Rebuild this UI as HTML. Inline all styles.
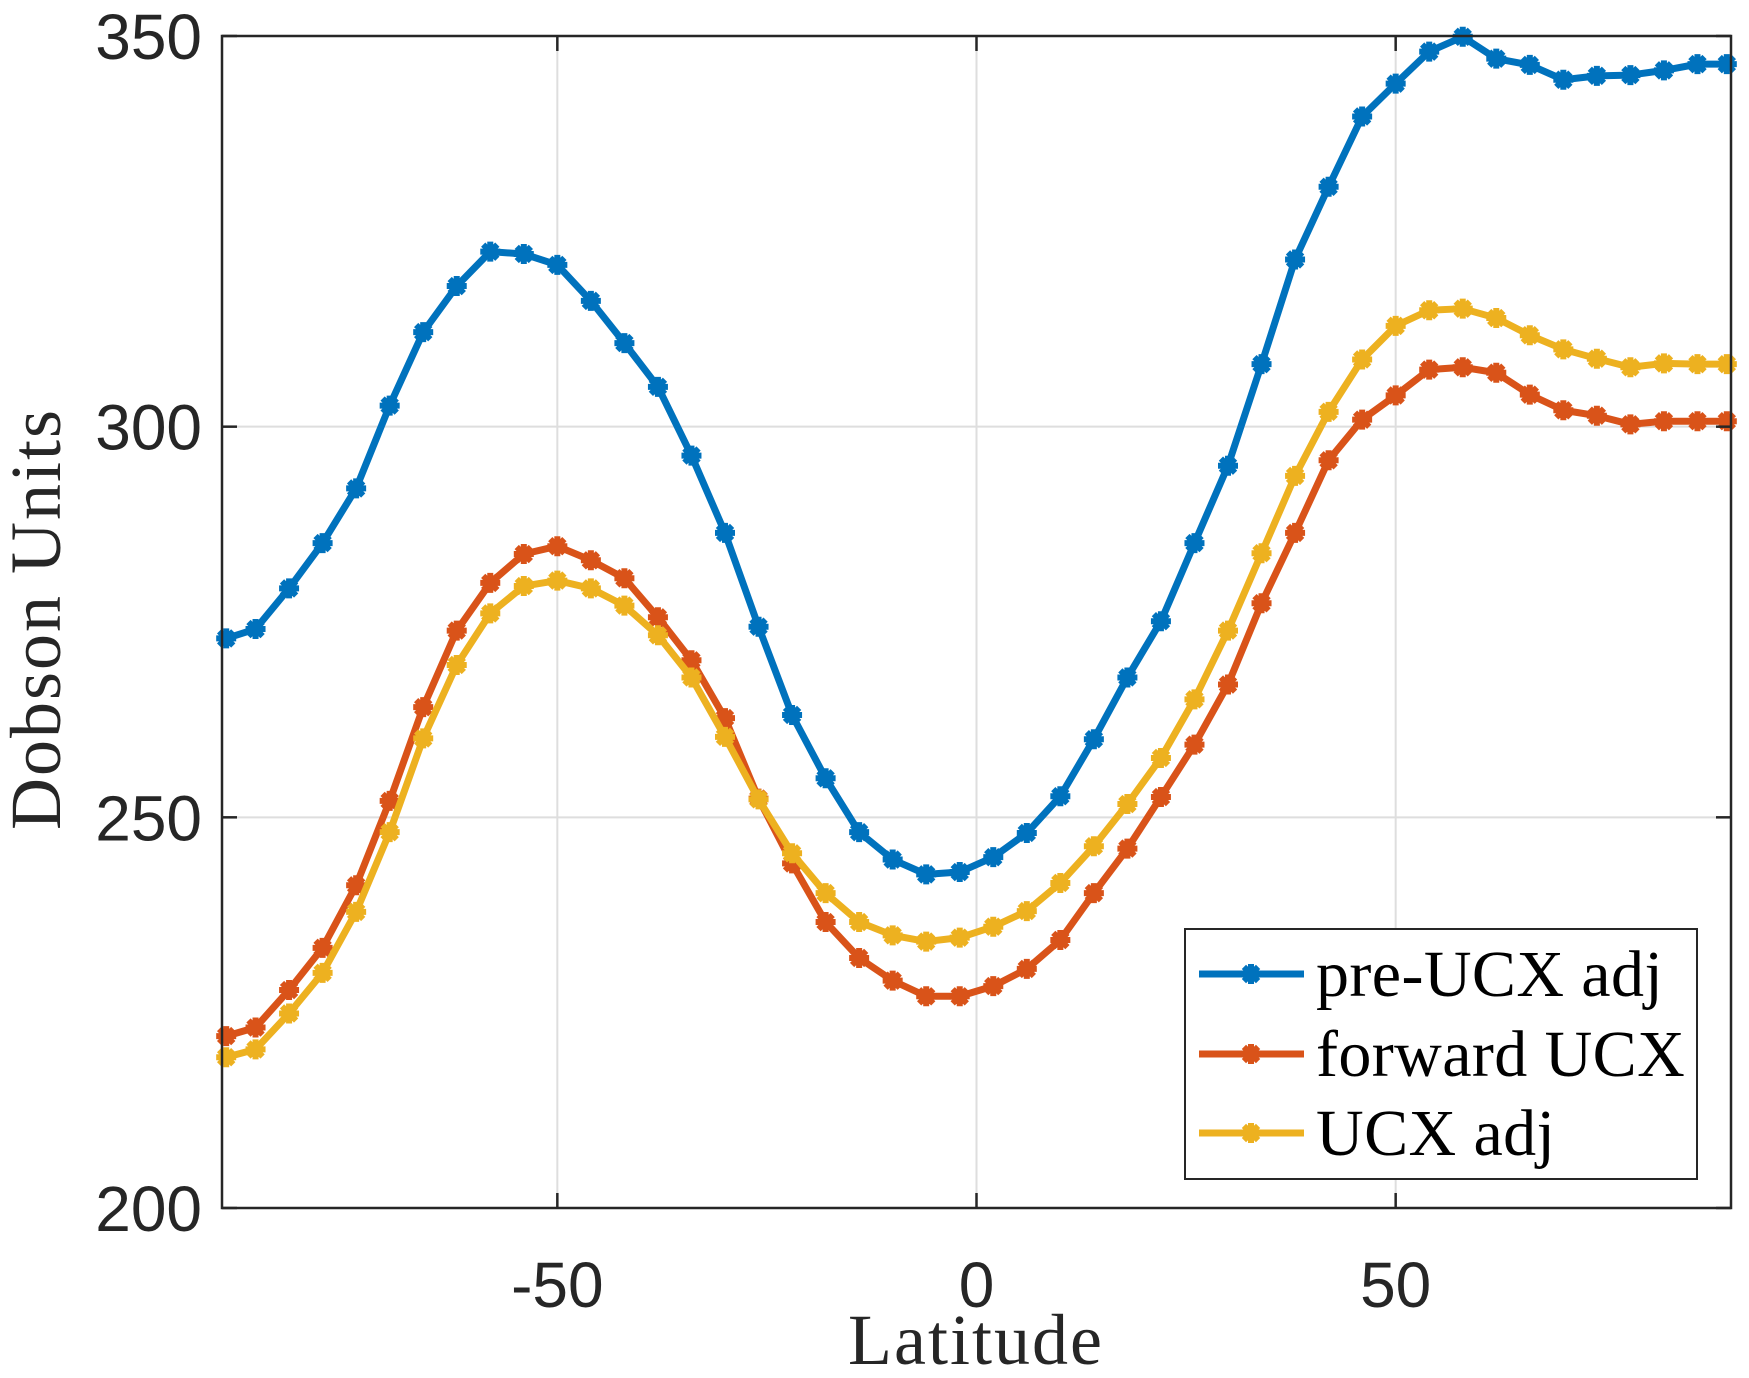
<!DOCTYPE html>
<html><head><meta charset="utf-8"><style>
html,body{margin:0;padding:0;background:#fff;}
svg{display:block;}
</style></head><body>
<svg id="chart" width="1749" height="1378" viewBox="0 0 1749 1378" xmlns="http://www.w3.org/2000/svg">
<rect width="1749" height="1378" fill="#fff"/>
<g id="grid"></g>
<g id="series"></g>
<g id="axes"></g>
<text x="976" y="1364" text-anchor="middle" font-family="Liberation Serif, serif" font-size="72" letter-spacing="2" fill="#262626">Latitude</text>
<text transform="translate(60,619) rotate(-90)" text-anchor="middle" font-family="Liberation Serif, serif" font-size="72" letter-spacing="2" fill="#262626">Dobson Units</text>
<g id="legend">
<rect x="1185" y="929" width="512" height="250" fill="#fff" stroke="#262626" stroke-width="2"/>
</g>
</svg>
<script>
const lats = [-89.5,-86,-82,-78,-74,-70,-66,-62,-58,-54,-50,-46,-42,-38,-34,-30,-26,-22,-18,-14,-10,-6,-2,2,6,10,14,18,22,26,30,34,38,42,46,50,54,58,62,66,70,74,78,82,86,89.5];
const preUcx = [272.9,274.1,279.3,285.1,292.1,302.7,312.1,318,322.4,322.1,320.7,316.1,310.7,305.1,296.3,286.4,274.4,263.1,255,248.1,244.6,242.7,243,244.9,248,252.7,260,267.9,275.1,285.1,295,308,321.4,330.7,339.7,343.9,348,349.9,347.1,346.3,344.4,344.9,345,345.6,346.4,346.4];
const forwardUcx = [222,223.1,227.9,233.3,241.3,252.1,264.1,273.9,280,283.7,284.7,282.9,280.6,275.6,270.1,262.7,252.4,244.1,236.6,232,229.1,227.1,227.1,228.4,230.6,234.3,240.3,246,252.6,259.3,267,277.4,286.4,295.7,300.9,304,307.3,307.6,306.9,304.1,302.1,301.4,300.3,300.7,300.7,300.7];
const ucxAdj = [219.3,220.3,224.9,230.1,237.9,248.1,260.1,269.5,276.1,279.6,280.3,279.3,277.1,273.3,267.9,260.3,252.3,245.4,240.3,236.6,234.9,234.1,234.6,236,238,241.6,246.3,251.7,257.6,265.1,273.9,283.8,293.7,301.9,308.6,312.9,314.9,315.1,313.9,311.7,309.9,308.7,307.6,308.1,308,308];
const xTicks = [-50,0,50];
const yTicks = [200,250,300,350];
const seriesNames = ["pre-UCX adj","forward UCX","UCX adj"];

const NS="http://www.w3.org/2000/svg";
const L=222,R=1731,T=36,B=1208;
const xMin=-90,xMax=90,yMin=200,yMax=350;
const sx=v=>L+(v-xMin)/(xMax-xMin)*(R-L);
const sy=v=>B-(v-yMin)/(yMax-yMin)*(B-T);
function mk(tag,attrs,parent){const e=document.createElementNS(NS,tag);for(const k in attrs)e.setAttribute(k,attrs[k]);parent.appendChild(e);return e;}
const grid=document.getElementById('grid'),axes=document.getElementById('axes'),ser=document.getElementById('series'),leg=document.getElementById('legend');
xTicks.forEach(t=>{
  const g=mk('line',{x1:sx(t),x2:sx(t),y1:T,y2:B,stroke:'#dedede','stroke-width':2},grid);
  
  
  const tk=mk('line',{x1:sx(t),x2:sx(t),y1:B,y2:B-15,stroke:'#262626','stroke-width':2.5},axes);
  
  
  const tk2=mk('line',{x1:sx(t),x2:sx(t),y1:T,y2:T+15,stroke:'#262626','stroke-width':2.5},axes);
  
  
  const tx=mk('text',{x:sx(t),y:1307,'text-anchor':'middle','font-family':'Liberation Sans, sans-serif','font-size':64,fill:'#262626'},axes);
  tx.textContent=t;
  
  
});
yTicks.forEach(t=>{
  const g=mk('line',{x1:L,x2:R,y1:sy(t),y2:sy(t),stroke:'#dedede','stroke-width':2},grid);
  
  
  const tk=mk('line',{x1:L,x2:L+15,y1:sy(t),y2:sy(t),stroke:'#262626','stroke-width':2.5},axes);
  
  
  const tk2=mk('line',{x1:R,x2:R-15,y1:sy(t),y2:sy(t),stroke:'#262626','stroke-width':2.5},axes);
  
  
  const tx=mk('text',{x:202,y:sy(t)+23,'text-anchor':'end','font-family':'Liberation Sans, sans-serif','font-size':64,fill:'#262626'},axes);
  tx.textContent=t;
  
  
});
const frame=mk('rect',{x:L,y:T,width:R-L,height:B-T,fill:'none',stroke:'#262626','stroke-width':2.5},axes);



function star(x,y,r){
  const d=[];
  for(let i=0;i<4;i++){const a=i*Math.PI/4;const dx=Math.cos(a)*r,dy=Math.sin(a)*r;d.push(`M${x-dx},${y-dy}L${x+dx},${y+dy}`);}
  return d.join('');
}
const colors=['#0072BD','#D95319','#EDB120'];
const data=[preUcx,forwardUcx,ucxAdj];
const keys=['pre-ucx-adj','forward-ucx','ucx-adj'];
data.forEach((vals,si)=>{
  const pts=vals.map((v,i)=>`${sx(lats[i])},${sy(v)}`).join(' ');
  const pl=mk('polyline',{points:pts,fill:'none',stroke:colors[si],'stroke-width':7,'stroke-linejoin':'round'},ser);
  
  
  let d='';
  vals.forEach((v,i)=>{d+=star(sx(lats[i]),sy(v),10);});
  const m=mk('path',{d:d,stroke:colors[si],'stroke-width':6,fill:'none'},ser);
  
  
  const ly=[974,1054,1133][si];
  const ll=mk('line',{x1:1199,x2:1304,y1:ly,y2:ly,stroke:colors[si],'stroke-width':7},leg);
  
  
  const lm=mk('path',{d:star(1251,ly,10),stroke:colors[si],'stroke-width':6},leg);
  
  
  const lt=mk('text',{x:1316,y:ly+22,'font-family':'Liberation Serif, serif','font-size':66,'letter-spacing':0.4,fill:'#000'},leg);
  lt.textContent=seriesNames[si];
  
  
});
</script>
</body></html>
